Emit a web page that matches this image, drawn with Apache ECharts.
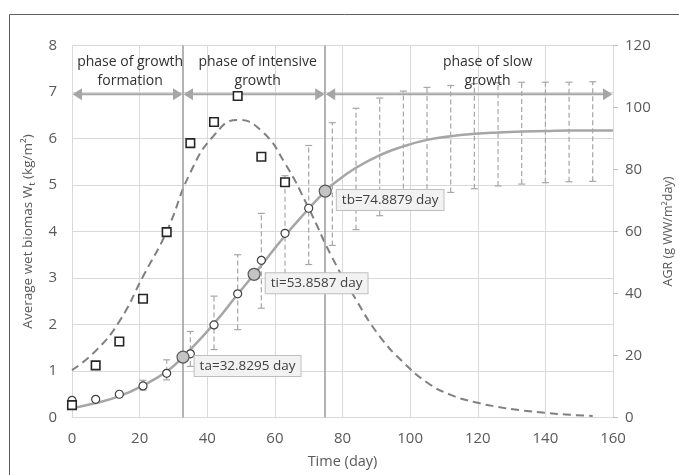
<!DOCTYPE html>
<html>
<head>
<meta charset="utf-8">
<script src="https://cdn.jsdelivr.net/npm/echarts@6/dist/echarts.min.js"></script>
<style>
html,body{margin:0;padding:0;background:#fff;}
#main{width:679px;height:475px;}
</style>
</head>
<body>
<div id="main"></div>
<script>
// ---- data ----
const measuredDays = [0, 7, 14, 21, 28, 35, 42, 49, 56, 63, 70];
const measuredBiomass = [0.37, 0.39, 0.50, 0.68, 0.95, 1.37, 1.99, 2.66, 3.38, 3.96, 4.50];

const agrMeasuredDays = [0, 7, 14, 21, 28, 35, 42, 49, 56, 63];
const agrMeasured = [4.0, 16.8, 24.5, 38.3, 59.8, 88.5, 95.3, 103.7, 84.1, 75.9];

const errDays = [21, 28, 35, 42, 49, 56, 63, 70, 77, 84, 91, 98, 105, 112, 119, 126, 133, 140, 147, 154];
const errLow  = [0.59, 0.81, 1.10, 1.46, 1.89, 2.35, 2.75, 3.29, 3.70, 4.04, 4.34, 4.58, 4.74, 4.84, 4.92, 4.98, 5.02, 5.05, 5.07, 5.08];
const errHigh = [0.80, 1.24, 1.85, 2.61, 3.50, 4.39, 5.20, 5.85, 6.34, 6.65, 6.87, 7.02, 7.10, 7.14, 7.18, 7.20, 7.21, 7.21, 7.21, 7.22];

const modelDays = [0, 7, 14, 21, 28, 32.8295, 35, 42, 49, 53.8587, 56, 63, 70, 74.8879, 77, 84, 91, 98, 105, 112, 119, 126, 133, 140, 147, 154, 160];
const modelBiomass = [0.20, 0.31, 0.46, 0.69, 0.99, 1.30, 1.46, 2.02, 2.65, 3.08, 3.27, 3.91, 4.49, 4.87, 5.01, 5.37, 5.64, 5.83, 5.97, 6.05, 6.10, 6.13, 6.15, 6.16, 6.17, 6.17, 6.17];

const agrModelDays = [0, 7, 14, 21, 28, 35, 42, 49, 56, 63, 70, 77, 84, 91, 98, 105, 112, 119, 126, 133, 140, 147, 154];
const agrModel = [15.3, 21.5, 31.0, 45.5, 60.0, 79.0, 91.0, 96.0, 92.5, 82.0, 67.5, 51.5, 38.0, 26.2, 17.8, 11.3, 7.3, 5.0, 3.4, 2.3, 1.5, 0.9, 0.5];

const keyTimes = [32.8295, 53.8587, 74.8879];
const keyBiomass = [1.30, 3.08, 4.87];
const keyLabels = ['ta=32.8295 day', 'ti=53.8587 day', 'tb=74.8879 day'];

const phaseBounds = [0, 32.8295, 74.8879, 160];
const phaseNames = ['phase of growth\nformation', 'phase of intensive\ngrowth', 'phase of slow\ngrowth'];
const phaseLabelDays = [17.2, 54.9, 122.9];

const xTickValues = [0, 20, 40, 60, 80, 100, 120, 140, 160];
const leftTickValues = [0, 1, 2, 3, 4, 5, 6, 7, 8];
const rightTickValues = [0, 20, 40, 60, 80, 100, 120];

// ---- chart ----
const FONT = '"Open Sans", "Noto Sans", sans-serif';
const ARROW_LEVEL = 6.95;
const TEXT_LEVEL = 7.44;
const chart = echarts.init(document.getElementById('main'), null, {renderer: 'canvas'});

const zip = (a, b) => a.map((v, i) => [v, b[i]]);

const option = {
  animation: false,
  backgroundColor: '#ffffff',
  textStyle: {fontFamily: FONT},
  graphic: [{
    type: 'rect', z: -10,
    shape: {x: 9.5, y: 14.5, width: 720, height: 520},
    style: {fill: 'none', stroke: '#5f5f5f', lineWidth: 1}
  }],
  grid: {left: 72, right: 66, top: 45.5, bottom: 57.5, containLabel: false, outerBoundsMode: 'none'},
  xAxis: {
    type: 'value', min: xTickValues[0], max: xTickValues[xTickValues.length - 1], interval: 20,
    name: 'Time (day)', nameLocation: 'middle', nameGap: 37,
    nameTextStyle: {color: '#595959', fontSize: 14.5, fontFamily: FONT},
    axisLine: {show: true, lineStyle: {color: '#d9d9d9', width: 1}},
    axisTick: {show: false},
    axisLabel: {color: '#595959', fontSize: 15, fontFamily: FONT, margin: 14},
    splitLine: {show: true, lineStyle: {color: '#d9d9d9', width: 1}}
  },
  yAxis: [{
    type: 'value', min: leftTickValues[0], max: leftTickValues[leftTickValues.length - 1], interval: 1,
    name: '{n|Average wet biomas W}{s|t}{n| (kg/m²)}', nameLocation: 'middle', nameGap: 29,
    nameTextStyle: {
      color: '#595959', fontFamily: FONT,
      rich: {
        n: {fontSize: 13.5, color: '#595959', fontFamily: FONT, lineHeight: 18, verticalAlign: 'middle'},
        s: {fontSize: 9.5, color: '#595959', fontFamily: FONT, lineHeight: 9, verticalAlign: 'bottom'}
      }
    },
    axisLine: {show: false},
    axisTick: {show: false},
    axisLabel: {color: '#595959', fontSize: 15, fontFamily: FONT, margin: 15},
    splitLine: {show: true, lineStyle: {color: '#d9d9d9', width: 1}}
  }, {
    type: 'value', min: rightTickValues[0], max: rightTickValues[rightTickValues.length - 1], interval: 20,
    position: 'right',
    name: 'AGR (g WW/m²day)', nameLocation: 'middle', nameGap: 47,
    nameTextStyle: {color: '#595959', fontSize: 12.5, fontFamily: FONT},
    axisLine: {show: false},
    axisTick: {show: true, length: 5, lineStyle: {color: '#bfbfbf'}},
    axisLabel: {color: '#595959', fontSize: 15, fontFamily: FONT, margin: 12},
    splitLine: {show: false}
  }],
  series: [
    {
      name: 'AGR model', type: 'line', yAxisIndex: 1, z: 3,
      data: zip(agrModelDays, agrModel),
      smooth: 0.5, symbol: 'none',
      lineStyle: {color: '#808080', width: 2, type: [8, 5]}
    },
    {
      name: 'Biomass model', type: 'line', yAxisIndex: 0, z: 3,
      data: zip(modelDays, modelBiomass),
      smooth: 0.5, symbol: 'none',
      lineStyle: {color: '#a6a6a6', width: 2.5},
      markLine: {
        silent: true, symbol: 'none', label: {show: false},
        lineStyle: {color: '#a0a0a0', width: 1.6, type: 'solid'},
        data: [{xAxis: keyTimes[0]}, {xAxis: keyTimes[2]}]
      }
    },
    {
      name: 'Error bars', type: 'custom', yAxisIndex: 0, z: 2,
      data: errDays.map((d, i) => [d, errLow[i], errHigh[i]]),
      encode: {x: 0, y: [1, 2]},
      renderItem: function (params, api) {
        const x = api.value(0);
        const p1 = api.coord([x, api.value(1)]);
        const p2 = api.coord([x, api.value(2)]);
        const cw = 3.5, col = '#a6a6a6';
        return {type: 'group', children: [
          {type: 'line', shape: {x1: p1[0], y1: p1[1], x2: p2[0], y2: p2[1]}, style: {stroke: col, lineWidth: 1.2, lineDash: [5, 3]}},
          {type: 'line', shape: {x1: p1[0] - cw, y1: p1[1], x2: p1[0] + cw, y2: p1[1]}, style: {stroke: col, lineWidth: 1.2}},
          {type: 'line', shape: {x1: p2[0] - cw, y1: p2[1], x2: p2[0] + cw, y2: p2[1]}, style: {stroke: col, lineWidth: 1.2}}
        ]};
      }
    },
    {
      name: 'Phase arrows', type: 'custom', yAxisIndex: 0, z: 3,
      data: phaseNames.map((n, i) => [phaseBounds[i], phaseBounds[i + 1], ARROW_LEVEL]),
      renderItem: function (params, api) {
        const a = api.coord([api.value(0), api.value(2)]);
        const b = api.coord([api.value(1), api.value(2)]);
        const L = 10, H = 6, col = '#a6a6a6';
        return {type: 'group', children: [
          {type: 'line', shape: {x1: a[0] + L - 1, y1: a[1], x2: b[0] - L + 1, y2: b[1]}, style: {stroke: col, lineWidth: 2}},
          {type: 'polygon', shape: {points: [[a[0] + 0.5, a[1]], [a[0] + L, a[1] - H], [a[0] + L, a[1] + H]]}, style: {fill: col}},
          {type: 'polygon', shape: {points: [[b[0] - 0.5, b[1]], [b[0] - L, b[1] - H], [b[0] - L, b[1] + H]]}, style: {fill: col}}
        ]};
      }
    },
    {
      name: 'Phase text', type: 'custom', yAxisIndex: 0, z: 6,
      data: phaseNames.map((n, i) => [phaseLabelDays[i], TEXT_LEVEL]),
      renderItem: function (params, api) {
        const p = api.coord([api.value(0), api.value(1)]);
        return {type: 'text', x: p[0], y: p[1], style: {
          text: phaseNames[params.dataIndex], fill: '#303030',
          fontSize: 14, fontFamily: FONT, align: 'center', verticalAlign: 'middle', lineHeight: 19.5
        }};
      }
    },
    {
      name: 'Measured biomass', type: 'scatter', yAxisIndex: 0, z: 4,
      data: zip(measuredDays, measuredBiomass),
      symbol: 'circle', symbolSize: 8,
      itemStyle: {color: '#ffffff', borderColor: '#404040', borderWidth: 1.2, opacity: 1}
    },
    {
      name: 'Measured AGR', type: 'scatter', yAxisIndex: 1, z: 4,
      data: zip(agrMeasuredDays, agrMeasured),
      symbol: 'rect', symbolSize: 8.5,
      itemStyle: {color: '#ffffff', borderColor: '#262626', borderWidth: 1.6, opacity: 1}
    },
    {
      name: 'Key points', type: 'scatter', yAxisIndex: 0, z: 5,
      data: zip(keyTimes, keyBiomass),
      symbol: 'circle', symbolSize: 12,
      itemStyle: {color: '#c4c4c4', borderColor: '#595959', borderWidth: 1.2, opacity: 1},
      label: {
        show: true, position: 'right', distance: 5, offset: [0, 9],
        formatter: p => keyLabels[p.dataIndex],
        color: '#404040', fontSize: 13.5, fontFamily: FONT,
        backgroundColor: '#f2f2f2', borderColor: '#bfbfbf', borderWidth: 1,
        padding: [3, 5, 3, 5]
      }
    }
  ]
};
chart.setOption(option);
</script>
</body>
</html>
